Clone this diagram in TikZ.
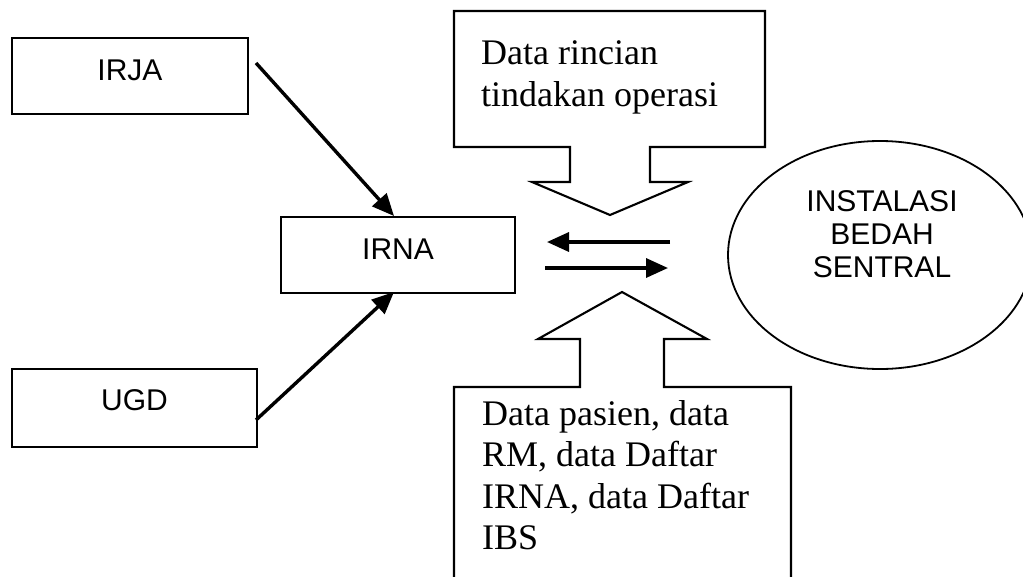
\documentclass[tikz,border=0pt]{standalone}
\usepackage{fontspec}
\setmainfont{Liberation Serif}
\newfontfamily\arialfont{Liberation Sans}
\usetikzlibrary{arrows.meta,shapes.geometric}
\tikzset{
  unitbox/.style={draw, line width=1.9pt, inner sep=0pt, font=\arialfont\fontsize{30}{33}\selectfont},
  callout/.style={draw, line width=2.1pt, line join=miter},
  calltext/.style={anchor=north west, inner sep=0pt, align=left, font=\fontsize{36}{41.5}\selectfont},
  arr/.style={line width=3.4pt, -{Triangle[length=22pt,width=19pt]}},
}
\begin{document}
\begin{tikzpicture}[x=1pt,y=-1pt]
\useasboundingbox (0,0) rectangle (1023,576);
\clip (0,0) rectangle (1023,576);
% boxes
\node[unitbox, minimum width=236pt, text height=42pt, text depth=34pt] (irja) at (130,76) {IRJA};
\node[unitbox, minimum width=245pt, text height=41pt, text depth=37pt] (ugd) at (134.5,408) {UGD};
\node[unitbox, minimum width=234pt, text height=42pt, text depth=34pt] (irna) at (398,255) {IRNA};
% ellipse
\node[ellipse, draw, line width=1.8pt, minimum width=304pt, minimum height=228pt, inner sep=0pt] (ibs) at (880,255) {};
\node[align=center, inner sep=0pt, font=\arialfont\fontsize{30}{33}\selectfont] (ibslabel) at (882,234.5) {INSTALASI\\BEDAH\\SENTRAL};
% callouts
\draw[callout] (454,11) -- (765,11) -- (765,147) -- (650,147) -- (650,182) -- (688,182) -- (610,215)
  -- (532,182) -- (570,182) -- (570,147) -- (454,147) -- cycle;
\node[calltext] (toptext) at (481,40.5) {Data rincian\\tindakan operasi};
\draw[callout] (454,600) -- (454,387) -- (580,387) -- (580,339) -- (538,339) -- (622,292) -- (707,339)
  -- (664,339) -- (664,387) -- (791,387) -- (791,600);
\node[calltext] (bottext) at (482,400) {Data pasien, data\\RM, data Daftar\\IRNA, data Daftar\\IBS};
% arrows
\coordinate (irjaout) at (256,63);
\coordinate (irnain1) at (394,216);
\coordinate (ugdout) at (256,420);
\coordinate (irnain2) at (394,292);
\draw[arr] (irjaout) -- (irnain1);
\draw[arr] (ugdout) -- (irnain2);
\coordinate (lefttail) at (670,242);
\coordinate (lefthead) at (547,242);
\coordinate (righttail) at (545,268);
\coordinate (righthead) at (668,268);
\draw[arr] (lefttail) -- (lefthead);
\draw[arr] (righttail) -- (righthead);
\end{tikzpicture}
\end{document}
